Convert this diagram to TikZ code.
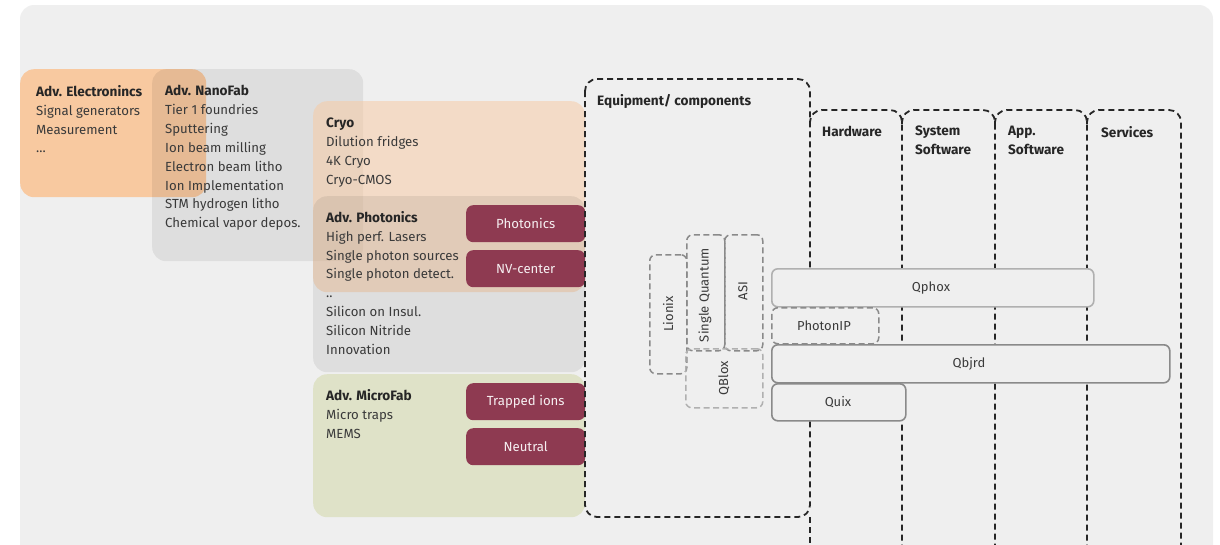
\documentclass[tikz,border=0pt]{standalone}
\usepackage{fontspec}
\setmainfont{Fira Sans}
\definecolor{bgc}{HTML}{EFEFEF}
\definecolor{orangec}{HTML}{F8C9A0}
\definecolor{greenc}{HTML}{DFE2C8}
\definecolor{redc}{HTML}{8E3A51}
\definecolor{txtc}{HTML}{3A3A3A}
\definecolor{hdc}{HTML}{262626}
\definecolor{dashc}{HTML}{262626}
\definecolor{grayd}{HTML}{8A8A8A}
\definecolor{grayl}{HTML}{B0B0B0}
\newcommand{\hd}[1]{{\color{hdc}\bfseries\fontsize{13.6}{19}\selectfont #1}}
\begin{document}
\begin{tikzpicture}[x=1pt,y=-1pt,
  area/.style={draw=none, rounded corners=14pt, anchor=north west},
  redbox/.style={fill=redc, rounded corners=7pt, anchor=north west, minimum width=119pt, minimum height=37pt,
     text=white!92!redc, font=\fontsize{13.2}{15}\selectfont},
  listtxt/.style={anchor=north west, inner sep=0pt, align=left, text=txtc, font=\fontsize{13.2}{18.9}\selectfont},
  hdtxt/.style={anchor=north west, inner sep=0pt, align=left, text=hdc, font=\bfseries\fontsize{13.6}{19}\selectfont},
  coldash/.style={draw=dashc, line width=1.8pt, dash pattern=on 6pt off 4pt, rounded corners=12pt},
  compbox/.style={draw=grayd, line width=1.5pt, dash pattern=on 6pt off 3.5pt, rounded corners=6pt, anchor=north west,
     text=txtc, font=\fontsize{13}{15}\selectfont},
  solidbox/.style={line width=1.6pt, rounded corners=6pt, anchor=north west, text=txtc, font=\fontsize{13}{15}\selectfont},
  plaintxt/.style={text=txtc, font=\fontsize{13}{15}\selectfont},
  rottxt/.style={rotate=90, text=txtc, font=\fontsize{13}{15}\selectfont, inner sep=0pt}
]
\useasboundingbox (0,0) rectangle (1220,544);
\clip (0,0) rectangle (1220,544);
% background
\fill[bgc, rounded corners=14pt] (20,5) rectangle (1213,570);

% areas
\node[area, fill=orangec, minimum width=186pt, minimum height=128pt] (elec) at (20,69) {};
\node[area, fill=black, fill opacity=0.07, minimum width=211pt, minimum height=192pt] (nano) at (152,69) {};
\node[area, fill=orangec, fill opacity=0.5, minimum width=272pt, minimum height=191pt] (cryo) at (313,101) {};
\node[area, fill=black, fill opacity=0.07, minimum width=272pt, minimum height=176pt] (phot) at (313,196) {};
\node[area, fill=greenc, minimum width=272pt, minimum height=143pt] (micro) at (313,374) {};

% red boxes
\node[redbox] (rphot) at (466,205) {Photonics};
\node[redbox] (rnv) at (466,250) {NV-center};
\node[redbox] (rtrap) at (466,383) {Trapped ions};
\node[redbox] (rneut) at (466,428) {Neutral};

% area texts
\node[listtxt] (telec) at (36,85) {\hd{Adv. Electronincs}\\Signal generators\\Measurement\\...};
\node[listtxt] (tnano) at (165,85) {\hd{Adv. NanoFab}\\Tier 1 foundries\\Sputtering\\Ion beam milling\\Electron beam litho\\Ion Implementation\\STM hydrogen litho\\Chemical vapor depos.};
\node[listtxt] (tcryo) at (326,118) {\hd{Cryo}\\Dilution fridges\\4K Cryo\\Cryo-CMOS};
\node[listtxt] (tphot) at (326,211) {\hd{Adv. Photonics}\\High perf. Lasers\\Single photon sources\\Single photon detect.\\..\\Silicon on Insul.\\Silicon Nitride\\Innovation};
\node[listtxt] (tmicro) at (326,389) {\hd{Adv. MicroFab}\\Micro traps\\MEMS};

% columns
\coordinate (equipNW) at (585,79);
\coordinate (equipSE) at (810,517);
\draw[coldash] (equipNW) rectangle (equipSE);
\coordinate (hwTop) at (810,110);
\draw[coldash] (810,124) -- (hwTop) -- (902,110) -- (902,570);
\draw[coldash] (810,517) -- (810,570);
\coordinate (sysTop) at (902,110);
\draw[coldash] (902,124) -- (sysTop) -- (995,110) -- (995,570);
\coordinate (appTop) at (995,110);
\draw[coldash] (995,124) -- (appTop) -- (1087,110) -- (1087,570);
\coordinate (servTop) at (1087,110);
\draw[coldash] (1087,124) -- (servTop) -- (1181,110) -- (1181,570);

\node[hdtxt] (hequip) at (597,94) {Equipment/ components};
\node[hdtxt] (hhw) at (822,126) {Hardware};
\node[hdtxt] (hsys) at (915,126) {System\\Software};
\node[hdtxt] (happ) at (1008,126) {App.\\Software};
\node[hdtxt] (hserv) at (1101,126) {Services};

% component boxes
\node[compbox, minimum width=37pt, minimum height=119pt] (lionix) at (649,254) {};
\node[compbox, minimum width=38pt, minimum height=116pt] (sq) at (686,234) {};
\node[compbox, minimum width=38pt, minimum height=116pt] (asi) at (724,234) {};
\node[compbox, draw=grayl, minimum width=77pt, minimum height=59pt] (qblox) at (685,348) {};
\node[rottxt] (tlionix) at (668,314) {Lionix};
\node[rottxt] (tsq) at (705,295) {Single Quantum};
\node[rottxt] (tasi) at (743,291) {ASI};
\node[rottxt] (tqblox) at (724,378) {QBlox};

\node[solidbox, draw=grayl, fill=bgc, minimum width=322pt, minimum height=38pt] (qphox) at (771,268) {};
\node[plaintxt] (tqphox) at (931,288) {Qphox};
\node[compbox, fill=bgc, minimum width=107pt, minimum height=36pt] (photonip) at (771,307) {};
\node[plaintxt] (tphotonip) at (824,326) {PhotonIP};
\node[solidbox, draw=grayd, fill=bgc, minimum width=398pt, minimum height=38pt] (qbjrd) at (771,344) {};
\node[plaintxt] (tqbjrd) at (969,364) {Qbjrd};
\node[solidbox, draw=grayd, fill=bgc, minimum width=134pt, minimum height=37pt] (quix) at (771,383) {};
\node[plaintxt] (tquix) at (838,402) {Quix};
\end{tikzpicture}
\end{document}
